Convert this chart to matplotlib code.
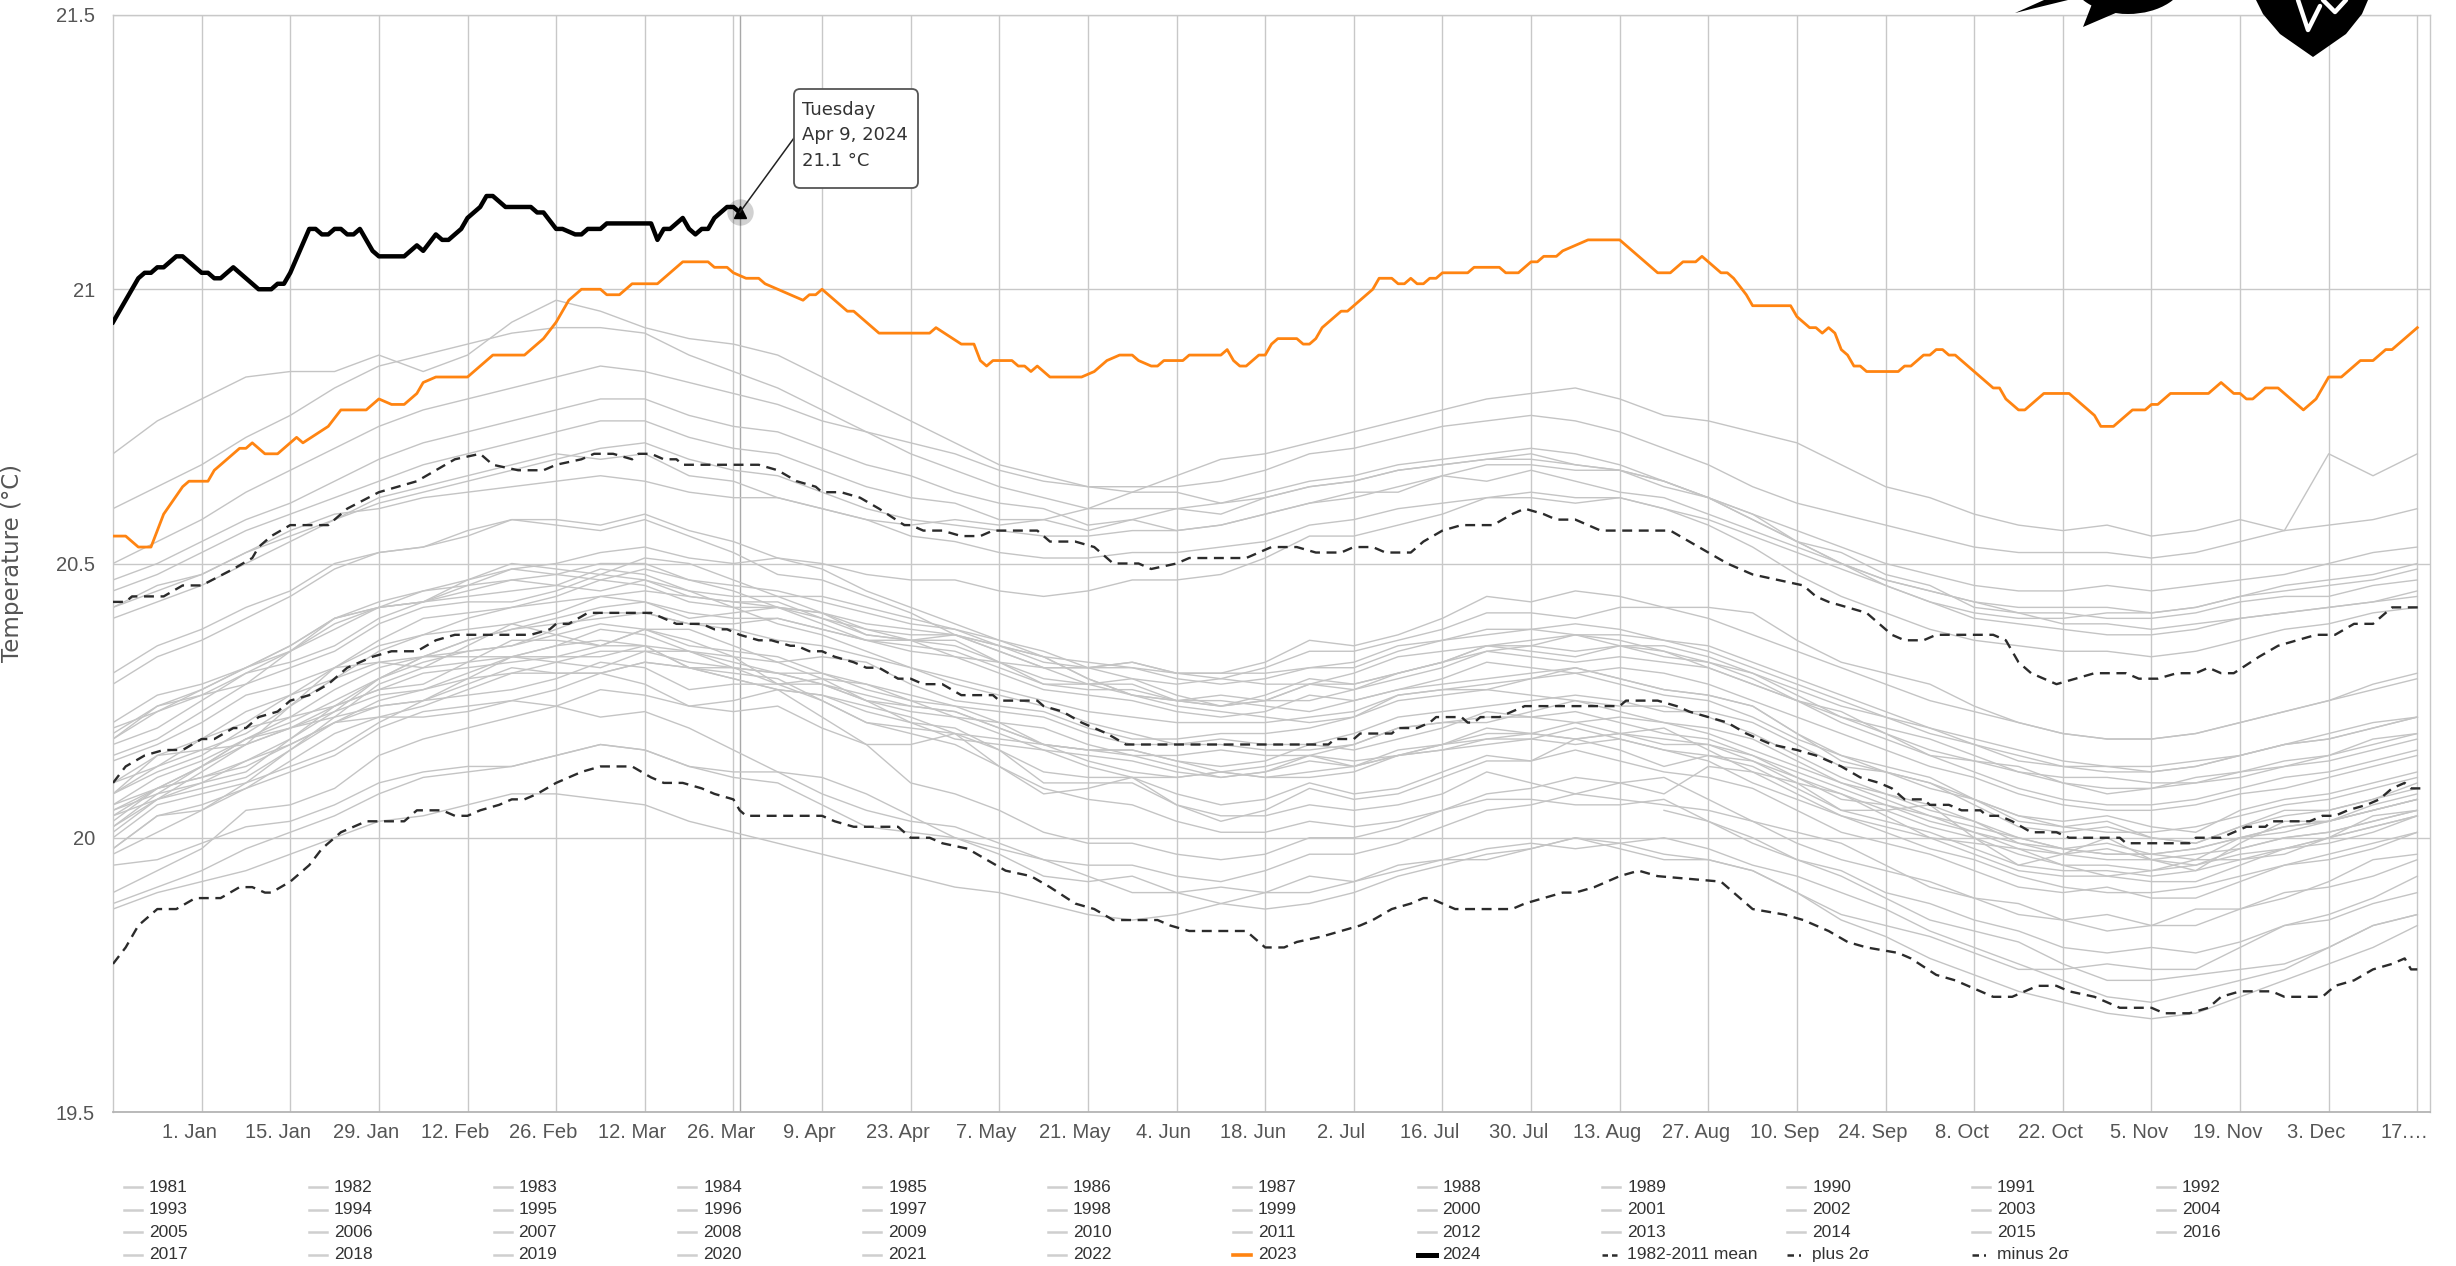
import matplotlib
matplotlib.use("Agg")
import matplotlib.pyplot as plt
import numpy as np
from matplotlib import font_manager
from matplotlib.lines import Line2D
from matplotlib.patches import FancyBboxPatch, Polygon, Ellipse
from matplotlib.transforms import IdentityTransform

nan = np.nan

# ---- data -------------------------------------------------------------
# gray years are read every 7 days (day of year, 0 = 1 Jan)
grid_days = list(range(0, 365, 7))

t1981 = [nan] * 35 + [20.05, 20.03, 20.00, 19.96, 19.94, 19.90, 19.88, 19.85, 19.83,
                      19.80, 19.79, 19.80, 19.79, 19.81, 19.84, 19.85, 19.88, 19.90]
t1982 = [19.98, 20.04, 20.05, 20.09, 20.12, 20.15, 20.20, 20.23, 20.24,
         20.25, 20.27, 20.30, 20.28, 20.24, 20.25, 20.27, 20.22, 20.17,
         20.17, 20.19, 20.13, 20.08, 20.09, 20.11, 20.06, 20.03, 20.05,
         20.09, 20.07, 20.08, 20.11, 20.14, 20.14, 20.18, 20.16, 20.13,
         20.15, 20.14, 20.10, 20.05, 20.05, 20.06, 20.00, 19.95, 19.97,
         20.00, 19.96, 19.94, 19.99, 20.03, 20.03, 20.06, 20.08]
t1983 = [20.08, 20.15, 20.16, 20.17, 20.24, 20.31, 20.32, 20.31, 20.35,
         20.39, 20.37, 20.35, 20.38, 20.36, 20.33, 20.28, 20.28, 20.25,
         20.21, 20.20, 20.16, 20.10, 20.10, 20.10, 20.06, 20.04, 20.04,
         20.06, 20.05, 20.06, 20.08, 20.12, 20.10, 20.08, 20.10, 20.11,
         20.07, 20.03, 20.01, 19.99, 19.95, 19.91, 19.89, 19.88, 19.85,
         19.83, 19.84, 19.87, 19.87, 19.89, 19.92, 19.96, 19.97]
t1984 = [19.95, 19.96, 19.99, 20.02, 20.03, 20.06, 20.10, 20.12, 20.13,
         20.13, 20.15, 20.17, 20.16, 20.13, 20.11, 20.10, 20.06, 20.02,
         20.01, 20.00, 19.97, 19.93, 19.92, 19.93, 19.90, 19.88, 19.90,
         19.93, 19.92, 19.94, 19.96, 19.98, 19.99, 19.98, 19.99, 20.00,
         19.98, 19.95, 19.93, 19.90, 19.87, 19.83, 19.80, 19.77, 19.74,
         19.71, 19.70, 19.72, 19.74, 19.76, 19.80, 19.84, 19.86]
t1985 = [19.87, 19.90, 19.92, 19.94, 19.97, 20.00, 20.03, 20.04, 20.06,
         20.08, 20.08, 20.07, 20.06, 20.03, 20.01, 19.99, 19.97, 19.95,
         19.93, 19.91, 19.90, 19.88, 19.86, 19.85, 19.86, 19.88, 19.87,
         19.88, 19.90, 19.93, 19.95, 19.97, 19.98, 20.00, 19.99, 19.97,
         19.96, 19.94, 19.90, 19.85, 19.82, 19.78, 19.75, 19.72, 19.70,
         19.68, 19.67, 19.68, 19.71, 19.74, 19.77, 19.80, 19.84]
t1986 = [19.90, 19.94, 19.98, 20.05, 20.06, 20.09, 20.15, 20.18, 20.20,
         20.22, 20.24, 20.27, 20.26, 20.24, 20.23, 20.24, 20.20, 20.17,
         20.10, 20.08, 20.05, 20.01, 19.99, 19.99, 19.97, 19.96, 19.97,
         20.00, 20.00, 20.02, 20.05, 20.08, 20.09, 20.11, 20.10, 20.08,
         20.13, 20.12, 20.08, 20.04, 20.02, 20.00, 19.97, 19.94, 19.93,
         19.93, 19.92, 19.92, 19.95, 19.98, 19.99, 20.01, 20.04]
t1987 = [20.02, 20.08, 20.10, 20.12, 20.18, 20.24, 20.27, 20.28, 20.32,
         20.36, 20.36, 20.35, 20.38, 20.38, 20.35, 20.32, 20.33, 20.32,
         20.28, 20.25, 20.24, 20.23, 20.20, 20.18, 20.18, 20.19, 20.19,
         20.20, 20.22, 20.26, 20.27, 20.27, 20.29, 20.31, 20.29, 20.27,
         20.26, 20.24, 20.19, 20.15, 20.13, 20.11, 20.07, 20.03, 20.02,
         20.03, 20.00, 19.99, 20.02, 20.05, 20.05, 20.07, 20.10]
t1988 = [20.08, 20.12, 20.15, 20.20, 20.22, 20.24, 20.29, 20.33, 20.33,
         20.33, 20.35, 20.36, 20.35, 20.31, 20.30, 20.29, 20.25, 20.21,
         20.19, 20.17, 20.13, 20.09, 20.07, 20.06, 20.03, 20.01, 20.01,
         20.03, 20.02, 20.03, 20.05, 20.07, 20.07, 20.06, 20.06, 20.07,
         20.03, 19.99, 19.96, 19.93, 19.89, 19.85, 19.83, 19.81, 19.77,
         19.74, 19.74, 19.75, 19.76, 19.77, 19.80, 19.84, 19.86]
t1989 = [19.88, 19.91, 19.94, 19.98, 20.01, 20.04, 20.08, 20.11, 20.12,
         20.13, 20.15, 20.17, 20.16, 20.13, 20.12, 20.12, 20.08, 20.05,
         20.03, 20.02, 19.99, 19.96, 19.95, 19.95, 19.93, 19.92, 19.94,
         19.97, 19.97, 19.99, 20.02, 20.05, 20.06, 20.08, 20.07, 20.06,
         20.05, 20.03, 19.99, 19.96, 19.94, 19.92, 19.89, 19.86, 19.85,
         19.86, 19.84, 19.84, 19.87, 19.90, 19.91, 19.93, 19.96]
t1990 = [20.00, 20.06, 20.08, 20.10, 20.16, 20.22, 20.24, 20.25, 20.29,
         20.33, 20.32, 20.31, 20.34, 20.34, 20.31, 20.28, 20.29, 20.28,
         20.25, 20.22, 20.21, 20.20, 20.17, 20.15, 20.15, 20.16, 20.15,
         20.15, 20.17, 20.20, 20.21, 20.21, 20.23, 20.25, 20.23, 20.21,
         20.20, 20.18, 20.14, 20.10, 20.08, 20.06, 20.03, 19.99, 19.98,
         19.99, 19.97, 19.96, 20.00, 20.02, 20.03, 20.05, 20.07]
t1991 = [20.05, 20.08, 20.13, 20.18, 20.20, 20.22, 20.28, 20.31, 20.32,
         20.33, 20.35, 20.38, 20.37, 20.34, 20.33, 20.32, 20.29, 20.25,
         20.24, 20.23, 20.20, 20.17, 20.16, 20.16, 20.14, 20.12, 20.13,
         20.15, 20.14, 20.15, 20.17, 20.19, 20.19, 20.18, 20.19, 20.20,
         20.16, 20.12, 20.10, 20.08, 20.04, 20.00, 19.99, 19.98, 19.95,
         19.93, 19.94, 19.96, 19.96, 19.97, 20.00, 20.04, 20.05]
t1992 = [20.03, 20.09, 20.11, 20.13, 20.17, 20.21, 20.22, 20.22, 20.23,
         20.25, 20.24, 20.22, 20.23, 20.20, 20.16, 20.12, 20.11, 20.08,
         20.04, 20.00, 19.98, 19.96, 19.93, 19.90, 19.90, 19.91, 19.90,
         19.90, 19.92, 19.95, 19.96, 19.96, 19.98, 20.00, 19.98, 19.96,
         19.96, 19.94, 19.90, 19.86, 19.84, 19.82, 19.79, 19.76, 19.76,
         19.77, 19.76, 19.76, 19.80, 19.84, 19.86, 19.89, 19.93]
t1993 = [19.97, 20.01, 20.05, 20.10, 20.13, 20.16, 20.21, 20.25, 20.26,
         20.27, 20.29, 20.32, 20.31, 20.27, 20.28, 20.28, 20.25, 20.21,
         20.20, 20.19, 20.16, 20.12, 20.11, 20.11, 20.08, 20.06, 20.07,
         20.10, 20.08, 20.09, 20.12, 20.15, 20.14, 20.16, 20.14, 20.12,
         20.11, 20.09, 20.05, 20.01, 19.99, 19.97, 19.94, 19.91, 19.90,
         19.91, 19.89, 19.89, 19.92, 19.95, 19.96, 19.98, 20.01]
t1994 = [20.01, 20.07, 20.09, 20.11, 20.16, 20.21, 20.24, 20.25, 20.28,
         20.31, 20.30, 20.30, 20.32, 20.31, 20.29, 20.27, 20.26, 20.23,
         20.21, 20.18, 20.17, 20.16, 20.13, 20.11, 20.11, 20.12, 20.11,
         20.12, 20.13, 20.16, 20.17, 20.18, 20.19, 20.21, 20.19, 20.17,
         20.17, 20.15, 20.11, 20.07, 20.06, 20.04, 20.01, 19.98, 19.97,
         19.98, 19.96, 19.95, 19.98, 20.00, 20.01, 20.03, 20.05]
t1995 = [20.05, 20.09, 20.13, 20.18, 20.21, 20.25, 20.29, 20.32, 20.34,
         20.35, 20.37, 20.39, 20.38, 20.35, 20.34, 20.33, 20.30, 20.27,
         20.25, 20.24, 20.21, 20.17, 20.16, 20.15, 20.13, 20.11, 20.12,
         20.14, 20.13, 20.15, 20.16, 20.18, 20.18, 20.17, 20.18, 20.16,
         20.14, 20.10, 20.07, 20.04, 20.01, 19.98, 19.96, 19.93, 19.91,
         19.90, 19.90, 19.91, 19.93, 19.95, 19.97, 19.99, 20.01]
t1996 = [19.98, 20.04, 20.06, 20.09, 20.14, 20.19, 20.22, 20.24, 20.27,
         20.30, 20.30, 20.30, 20.32, 20.31, 20.29, 20.27, 20.26, 20.24,
         20.22, 20.19, 20.18, 20.17, 20.14, 20.12, 20.11, 20.12, 20.11,
         20.11, 20.12, 20.15, 20.16, 20.17, 20.18, 20.20, 20.18, 20.16,
         20.15, 20.13, 20.09, 20.05, 20.03, 20.01, 19.98, 19.95, 19.94,
         19.94, 19.93, 19.94, 19.96, 19.98, 20.00, 20.02, 20.04]
t1997 = [20.04, 20.07, 20.12, 20.17, 20.20, 20.23, 20.29, 20.33, 20.34,
         20.35, 20.38, 20.41, 20.41, 20.39, 20.39, 20.40, 20.38, 20.36,
         20.36, 20.37, 20.34, 20.31, 20.31, 20.32, 20.30, 20.30, 20.32,
         20.36, 20.35, 20.37, 20.40, 20.44, 20.43, 20.45, 20.44, 20.42,
         20.42, 20.41, 20.36, 20.32, 20.30, 20.28, 20.24, 20.21, 20.19,
         20.18, 20.18, 20.19, 20.21, 20.23, 20.25, 20.28, 20.30]
t1998 = [20.30, 20.35, 20.38, 20.42, 20.45, 20.50, 20.52, 20.53, 20.55,
         20.58, 20.57, 20.56, 20.58, 20.55, 20.52, 20.48, 20.47, 20.44,
         20.41, 20.37, 20.35, 20.33, 20.29, 20.26, 20.25, 20.25, 20.24,
         20.23, 20.25, 20.27, 20.28, 20.29, 20.30, 20.31, 20.29, 20.27,
         20.26, 20.24, 20.19, 20.14, 20.12, 20.10, 20.06, 20.02, 20.01,
         20.02, 20.00, 19.99, 20.02, 20.04, 20.05, 20.07, 20.09]
t1999 = [20.06, 20.09, 20.13, 20.17, 20.20, 20.24, 20.27, 20.30, 20.31,
         20.32, 20.33, 20.35, 20.35, 20.31, 20.31, 20.30, 20.28, 20.25,
         20.23, 20.22, 20.19, 20.16, 20.15, 20.14, 20.12, 20.11, 20.12,
         20.15, 20.13, 20.15, 20.17, 20.20, 20.19, 20.18, 20.19, 20.18,
         20.17, 20.14, 20.11, 20.08, 20.05, 20.02, 20.00, 19.97, 19.95,
         19.95, 19.94, 19.95, 19.97, 19.98, 20.00, 20.02, 20.04]
t2000 = [20.02, 20.07, 20.10, 20.14, 20.17, 20.21, 20.25, 20.27, 20.29,
         20.30, 20.32, 20.34, 20.34, 20.32, 20.31, 20.30, 20.28, 20.26,
         20.24, 20.23, 20.20, 20.17, 20.16, 20.16, 20.14, 20.13, 20.14,
         20.17, 20.16, 20.18, 20.20, 20.23, 20.22, 20.21, 20.22, 20.21,
         20.19, 20.16, 20.13, 20.10, 20.07, 20.04, 20.02, 20.00, 19.98,
         19.97, 19.97, 19.98, 20.00, 20.01, 20.03, 20.05, 20.07]
t2001 = [20.06, 20.11, 20.14, 20.18, 20.22, 20.27, 20.31, 20.33, 20.36,
         20.38, 20.40, 20.42, 20.43, 20.41, 20.40, 20.40, 20.38, 20.36,
         20.34, 20.33, 20.30, 20.27, 20.26, 20.25, 20.23, 20.22, 20.23,
         20.26, 20.25, 20.27, 20.29, 20.32, 20.31, 20.30, 20.31, 20.30,
         20.28, 20.25, 20.22, 20.19, 20.16, 20.13, 20.11, 20.08, 20.06,
         20.05, 20.05, 20.06, 20.08, 20.09, 20.11, 20.13, 20.15]
t2002 = [20.15, 20.18, 20.23, 20.28, 20.31, 20.34, 20.39, 20.42, 20.43,
         20.43, 20.45, 20.48, 20.47, 20.44, 20.43, 20.43, 20.40, 20.37,
         20.36, 20.35, 20.32, 20.29, 20.28, 20.28, 20.25, 20.24, 20.25,
         20.28, 20.27, 20.29, 20.31, 20.34, 20.33, 20.32, 20.33, 20.32,
         20.31, 20.28, 20.25, 20.22, 20.19, 20.16, 20.14, 20.12, 20.10,
         20.09, 20.09, 20.10, 20.11, 20.13, 20.14, 20.16, 20.18]
t2003 = [20.18, 20.23, 20.26, 20.30, 20.34, 20.39, 20.42, 20.43, 20.46,
         20.49, 20.48, 20.47, 20.49, 20.47, 20.45, 20.42, 20.41, 20.38,
         20.36, 20.33, 20.32, 20.31, 20.28, 20.26, 20.25, 20.26, 20.25,
         20.25, 20.27, 20.30, 20.32, 20.34, 20.35, 20.37, 20.35, 20.33,
         20.32, 20.30, 20.26, 20.22, 20.20, 20.18, 20.15, 20.12, 20.11,
         20.11, 20.10, 20.10, 20.12, 20.14, 20.15, 20.17, 20.19]
t2004 = [20.17, 20.20, 20.25, 20.30, 20.32, 20.35, 20.40, 20.43, 20.44,
         20.45, 20.46, 20.49, 20.48, 20.45, 20.44, 20.44, 20.41, 20.37,
         20.36, 20.36, 20.32, 20.28, 20.28, 20.29, 20.26, 20.24, 20.26,
         20.29, 20.28, 20.30, 20.32, 20.35, 20.34, 20.33, 20.35, 20.34,
         20.31, 20.28, 20.25, 20.23, 20.19, 20.15, 20.14, 20.13, 20.10,
         20.08, 20.09, 20.11, 20.12, 20.13, 20.15, 20.18, 20.19]
t2005 = [20.18, 20.24, 20.26, 20.28, 20.34, 20.40, 20.42, 20.43, 20.47,
         20.50, 20.49, 20.48, 20.51, 20.50, 20.47, 20.44, 20.44, 20.42,
         20.40, 20.38, 20.36, 20.34, 20.31, 20.29, 20.28, 20.29, 20.28,
         20.28, 20.30, 20.33, 20.34, 20.35, 20.36, 20.37, 20.36, 20.34,
         20.32, 20.29, 20.25, 20.21, 20.18, 20.15, 20.12, 20.09, 20.07,
         20.06, 20.06, 20.07, 20.09, 20.11, 20.12, 20.14, 20.16]
t2006 = [20.14, 20.17, 20.21, 20.26, 20.28, 20.31, 20.36, 20.40, 20.41,
         20.42, 20.44, 20.47, 20.46, 20.43, 20.42, 20.42, 20.39, 20.36,
         20.35, 20.34, 20.31, 20.28, 20.27, 20.27, 20.25, 20.24, 20.25,
         20.28, 20.28, 20.30, 20.32, 20.35, 20.35, 20.34, 20.35, 20.35,
         20.33, 20.30, 20.27, 20.24, 20.22, 20.20, 20.17, 20.14, 20.13,
         20.13, 20.12, 20.13, 20.15, 20.17, 20.18, 20.20, 20.22]
t2007 = [20.21, 20.26, 20.28, 20.31, 20.35, 20.40, 20.42, 20.43, 20.45,
         20.47, 20.46, 20.45, 20.47, 20.45, 20.42, 20.39, 20.37, 20.34,
         20.31, 20.28, 20.26, 20.24, 20.21, 20.19, 20.17, 20.17, 20.16,
         20.16, 20.17, 20.20, 20.21, 20.22, 20.22, 20.23, 20.21, 20.19,
         20.18, 20.15, 20.12, 20.09, 20.06, 20.03, 20.01, 19.99, 19.97,
         19.96, 19.96, 19.97, 19.98, 20.00, 20.01, 20.03, 20.05]
t2008 = [20.04, 20.09, 20.11, 20.14, 20.18, 20.23, 20.26, 20.27, 20.30,
         20.33, 20.33, 20.33, 20.35, 20.34, 20.32, 20.30, 20.30, 20.28,
         20.26, 20.24, 20.23, 20.22, 20.19, 20.17, 20.17, 20.18, 20.17,
         20.17, 20.19, 20.22, 20.23, 20.24, 20.25, 20.26, 20.25, 20.23,
         20.23, 20.21, 20.17, 20.13, 20.12, 20.10, 20.07, 20.04, 20.03,
         20.04, 20.02, 20.01, 20.05, 20.07, 20.08, 20.10, 20.12]
t2009 = [20.10, 20.13, 20.18, 20.23, 20.26, 20.29, 20.34, 20.37, 20.38,
         20.39, 20.41, 20.44, 20.43, 20.40, 20.41, 20.42, 20.40, 20.38,
         20.37, 20.37, 20.34, 20.31, 20.31, 20.32, 20.30, 20.29, 20.31,
         20.34, 20.34, 20.36, 20.38, 20.41, 20.41, 20.40, 20.42, 20.42,
         20.40, 20.37, 20.34, 20.31, 20.28, 20.25, 20.23, 20.21, 20.19,
         20.18, 20.18, 20.19, 20.21, 20.23, 20.25, 20.27, 20.29]
t2010 = [20.28, 20.33, 20.36, 20.40, 20.44, 20.49, 20.52, 20.53, 20.56,
         20.58, 20.58, 20.57, 20.59, 20.56, 20.54, 20.51, 20.49, 20.45,
         20.42, 20.39, 20.36, 20.33, 20.29, 20.26, 20.24, 20.23, 20.22,
         20.21, 20.22, 20.25, 20.26, 20.27, 20.26, 20.25, 20.24, 20.24,
         20.22, 20.19, 20.15, 20.11, 20.08, 20.05, 20.03, 20.00, 19.98,
         19.97, 19.97, 19.98, 20.00, 20.02, 20.03, 20.05, 20.07]
t2011 = [20.08, 20.13, 20.16, 20.19, 20.24, 20.29, 20.32, 20.33, 20.36,
         20.38, 20.39, 20.40, 20.41, 20.39, 20.38, 20.36, 20.35, 20.33,
         20.31, 20.29, 20.27, 20.25, 20.23, 20.22, 20.21, 20.21, 20.21,
         20.22, 20.23, 20.26, 20.27, 20.28, 20.29, 20.30, 20.28, 20.26,
         20.25, 20.22, 20.18, 20.15, 20.12, 20.09, 20.07, 20.04, 20.02,
         20.01, 20.01, 20.02, 20.04, 20.06, 20.07, 20.09, 20.11]
t2012 = [20.10, 20.15, 20.18, 20.21, 20.26, 20.31, 20.35, 20.37, 20.40,
         20.42, 20.43, 20.44, 20.45, 20.44, 20.43, 20.42, 20.41, 20.39,
         20.38, 20.37, 20.35, 20.33, 20.32, 20.31, 20.30, 20.30, 20.30,
         20.31, 20.32, 20.35, 20.36, 20.37, 20.38, 20.39, 20.38, 20.36,
         20.35, 20.32, 20.29, 20.26, 20.23, 20.20, 20.18, 20.16, 20.14,
         20.13, 20.13, 20.14, 20.15, 20.17, 20.18, 20.20, 20.22]
t2013 = [20.20, 20.23, 20.27, 20.31, 20.34, 20.38, 20.42, 20.45, 20.46,
         20.47, 20.48, 20.50, 20.50, 20.47, 20.46, 20.45, 20.43, 20.41,
         20.39, 20.38, 20.35, 20.32, 20.31, 20.31, 20.29, 20.28, 20.29,
         20.31, 20.31, 20.34, 20.36, 20.38, 20.38, 20.37, 20.37, 20.36,
         20.34, 20.31, 20.28, 20.25, 20.22, 20.19, 20.17, 20.15, 20.13,
         20.12, 20.12, 20.13, 20.15, 20.17, 20.19, 20.21, 20.22]
t2014 = [20.19, 20.24, 20.27, 20.31, 20.35, 20.40, 20.43, 20.45, 20.47,
         20.49, 20.50, 20.52, 20.53, 20.51, 20.50, 20.51, 20.50, 20.48,
         20.47, 20.47, 20.45, 20.44, 20.45, 20.47, 20.47, 20.48, 20.51,
         20.55, 20.55, 20.57, 20.59, 20.62, 20.62, 20.61, 20.62, 20.60,
         20.57, 20.53, 20.48, 20.44, 20.41, 20.38, 20.36, 20.35, 20.34,
         20.34, 20.33, 20.34, 20.36, 20.38, 20.39, 20.41, 20.42]
t2015 = [20.42, 20.46, 20.48, 20.52, 20.56, 20.59, 20.60, 20.62, 20.63,
         20.64, 20.65, 20.66, 20.65, 20.63, 20.62, 20.62, 20.60, 20.58,
         20.57, 20.58, 20.57, 20.58, 20.60, 20.63, 20.66, 20.69, 20.70,
         20.72, 20.74, 20.76, 20.78, 20.80, 20.81, 20.82, 20.80, 20.77,
         20.76, 20.74, 20.72, 20.68, 20.64, 20.62, 20.59, 20.57, 20.56,
         20.57, 20.55, 20.56, 20.58, 20.56, 20.70, 20.66, 20.70]
t2016 = [20.70, 20.76, 20.80, 20.84, 20.85, 20.85, 20.88, 20.85, 20.88,
         20.94, 20.98, 20.96, 20.93, 20.91, 20.90, 20.88, 20.84, 20.80,
         20.76, 20.72, 20.68, 20.66, 20.64, 20.63, 20.63, 20.61, 20.62,
         20.64, 20.65, 20.67, 20.68, 20.69, 20.70, 20.68, 20.67, 20.64,
         20.62, 20.58, 20.54, 20.50, 20.47, 20.45, 20.43, 20.41, 20.41,
         20.40, 20.40, 20.41, 20.43, 20.44, 20.44, 20.46, 20.47]
t2017 = [20.47, 20.50, 20.54, 20.58, 20.61, 20.65, 20.69, 20.72, 20.74,
         20.76, 20.78, 20.80, 20.80, 20.77, 20.75, 20.74, 20.71, 20.68,
         20.66, 20.63, 20.61, 20.60, 20.57, 20.58, 20.56, 20.57, 20.59,
         20.61, 20.62, 20.64, 20.66, 20.68, 20.68, 20.67, 20.67, 20.65,
         20.62, 20.58, 20.54, 20.50, 20.46, 20.43, 20.40, 20.39, 20.38,
         20.37, 20.37, 20.38, 20.40, 20.41, 20.42, 20.43, 20.44]
t2018 = [20.42, 20.45, 20.48, 20.52, 20.55, 20.58, 20.62, 20.64, 20.66,
         20.68, 20.70, 20.69, 20.70, 20.66, 20.65, 20.62, 20.60, 20.58,
         20.55, 20.54, 20.52, 20.51, 20.51, 20.52, 20.52, 20.53, 20.54,
         20.57, 20.58, 20.60, 20.61, 20.62, 20.63, 20.62, 20.62, 20.60,
         20.58, 20.55, 20.52, 20.49, 20.46, 20.43, 20.41, 20.40, 20.40,
         20.41, 20.41, 20.42, 20.44, 20.46, 20.47, 20.48, 20.50]
t2019 = [20.50, 20.54, 20.58, 20.63, 20.67, 20.71, 20.75, 20.78, 20.80,
         20.82, 20.84, 20.86, 20.85, 20.83, 20.81, 20.79, 20.76, 20.74,
         20.72, 20.70, 20.67, 20.65, 20.64, 20.64, 20.64, 20.65, 20.67,
         20.70, 20.71, 20.73, 20.75, 20.76, 20.77, 20.76, 20.74, 20.71,
         20.68, 20.64, 20.61, 20.59, 20.57, 20.55, 20.53, 20.52, 20.52,
         20.52, 20.51, 20.52, 20.54, 20.56, 20.57, 20.58, 20.60]
t2020 = [20.60, 20.64, 20.68, 20.73, 20.77, 20.82, 20.86, 20.88, 20.90,
         20.92, 20.93, 20.93, 20.92, 20.88, 20.85, 20.82, 20.78, 20.74,
         20.70, 20.67, 20.64, 20.62, 20.60, 20.60, 20.60, 20.61, 20.63,
         20.65, 20.66, 20.68, 20.69, 20.70, 20.71, 20.70, 20.68, 20.65,
         20.62, 20.59, 20.54, 20.52, 20.48, 20.46, 20.42, 20.41, 20.39,
         20.39, 20.38, 20.39, 20.40, 20.41, 20.42, 20.43, 20.45]
t2021 = [20.40, 20.43, 20.46, 20.50, 20.54, 20.58, 20.61, 20.63, 20.65,
         20.67, 20.69, 20.71, 20.72, 20.69, 20.67, 20.66, 20.63, 20.60,
         20.58, 20.57, 20.56, 20.55, 20.55, 20.56, 20.56, 20.57, 20.59,
         20.61, 20.63, 20.63, 20.66, 20.65, 20.67, 20.65, 20.63, 20.62,
         20.59, 20.56, 20.53, 20.50, 20.47, 20.45, 20.43, 20.42, 20.42,
         20.42, 20.41, 20.42, 20.44, 20.45, 20.46, 20.47, 20.49]
t2022 = [20.45, 20.48, 20.52, 20.56, 20.59, 20.62, 20.65, 20.68, 20.70,
         20.72, 20.74, 20.76, 20.76, 20.73, 20.71, 20.70, 20.67, 20.64,
         20.62, 20.61, 20.58, 20.58, 20.56, 20.58, 20.60, 20.59, 20.62,
         20.64, 20.65, 20.67, 20.68, 20.69, 20.69, 20.68, 20.67, 20.65,
         20.62, 20.59, 20.56, 20.53, 20.50, 20.48, 20.46, 20.45, 20.45,
         20.46, 20.45, 20.46, 20.47, 20.48, 20.50, 20.52, 20.53]

gray_years = list(range(1981, 2023))
gray_series = [t1981, t1982, t1983, t1984, t1985, t1986, t1987, t1988, t1989,
               t1990, t1991, t1992, t1993, t1994, t1995, t1996, t1997, t1998,
               t1999, t2000, t2001, t2002, t2003, t2004, t2005, t2006, t2007,
               t2008, t2009, t2010, t2011, t2012, t2013, t2014, t2015, t2016,
               t2017, t2018, t2019, t2020, t2021, t2022]

days_2023 = [0, 2, 4, 6, 8, 11, 12, 15, 16, 20, 21, 22, 24, 26, 29, 30, 34, 36, 40, 42,
             44, 46, 48, 49, 51, 56, 57, 60, 65, 68, 70, 72, 74, 77, 78, 80, 82, 86, 90, 94,
             95, 97, 98, 100, 102, 103, 105, 107, 109, 110, 111, 112, 116, 117, 121, 129, 130,
             134, 136, 137, 138, 139, 142, 143, 144, 145, 146, 148, 153, 155, 157, 159, 161,
             162, 164, 165, 166, 169, 170, 175, 176, 177, 178, 179, 181, 182, 183, 184, 187,
             188, 189, 190, 191, 194, 195, 197, 199, 200, 202, 203, 204, 205, 206, 207, 208,
             209, 210, 214, 215, 219, 220, 222, 224, 225, 226, 228, 229, 231, 233, 238, 240,
             244, 246, 248, 250, 251, 252, 254, 255, 256, 258, 259, 265, 266, 268, 269, 270,
             271, 272, 273, 274, 275, 276, 277, 282, 283, 284, 286, 287, 288, 289, 290, 291,
             297, 298, 299, 301, 302, 305, 309, 311, 313, 314, 316, 319, 321, 322, 323, 325,
             331, 333, 335, 336, 337, 338, 340, 342, 346, 348, 350, 352, 355, 357, 359, 360, 364]
temp_2023 = [20.55, 20.55, 20.53, 20.53, 20.59, 20.64, 20.65, 20.65, 20.67, 20.71, 20.71, 20.72,
             20.70, 20.70, 20.73, 20.72, 20.75, 20.78, 20.78, 20.80, 20.79, 20.79, 20.81, 20.83,
             20.84, 20.84, 20.85, 20.88, 20.88, 20.91, 20.94, 20.98, 21.00, 21.00, 20.99, 20.99,
             21.01, 21.01, 21.05, 21.05, 21.04, 21.04, 21.03, 21.02, 21.02, 21.01, 21.00, 20.99,
             20.98, 20.99, 20.99, 21.00, 20.96, 20.96, 20.92, 20.92, 20.93, 20.90, 20.90, 20.87,
             20.86, 20.87, 20.87, 20.86, 20.86, 20.85, 20.86, 20.84, 20.84, 20.85, 20.87, 20.88,
             20.88, 20.87, 20.86, 20.86, 20.87, 20.87, 20.88, 20.88, 20.89, 20.87, 20.86, 20.86,
             20.88, 20.88, 20.90, 20.91, 20.91, 20.90, 20.90, 20.91, 20.93, 20.96, 20.96, 20.98,
             21.00, 21.02, 21.02, 21.01, 21.01, 21.02, 21.01, 21.01, 21.02, 21.02, 21.03, 21.03,
             21.04, 21.04, 21.03, 21.03, 21.05, 21.05, 21.06, 21.06, 21.07, 21.08, 21.09, 21.09,
             21.07, 21.03, 21.03, 21.05, 21.05, 21.06, 21.05, 21.03, 21.03, 21.02, 20.99, 20.97,
             20.97, 20.95, 20.93, 20.93, 20.92, 20.93, 20.92, 20.89, 20.88, 20.86, 20.86, 20.85,
             20.85, 20.86, 20.86, 20.88, 20.88, 20.89, 20.89, 20.88, 20.88, 20.82, 20.82, 20.80,
             20.78, 20.78, 20.81, 20.81, 20.79, 20.77, 20.75, 20.75, 20.78, 20.78, 20.79, 20.79,
             20.81, 20.81, 20.83, 20.81, 20.81, 20.80, 20.80, 20.82, 20.82, 20.78, 20.80, 20.84,
             20.84, 20.87, 20.87, 20.89, 20.89, 20.93]

days_2024 = [0, 2, 4, 5, 6, 7, 8, 10, 11, 12, 14, 15, 16, 17, 19, 23, 25, 26, 27, 28, 31, 32,
             33, 34, 35, 36, 37, 38, 39, 41, 42, 46, 48, 49, 51, 52, 53, 55, 56, 58, 59, 60, 62,
             66, 67, 68, 70, 71, 73, 74, 75, 77, 78, 85, 86, 87, 88, 90, 91, 92, 93, 94, 95, 97,
             98, 99]
temp_2024 = [20.94, 20.98, 21.02, 21.03, 21.03, 21.04, 21.04, 21.06, 21.06, 21.05, 21.03, 21.03,
             21.02, 21.02, 21.04, 21.00, 21.00, 21.01, 21.01, 21.03, 21.11, 21.11, 21.10, 21.10,
             21.11, 21.11, 21.10, 21.10, 21.11, 21.07, 21.06, 21.06, 21.08, 21.07, 21.10, 21.09,
             21.09, 21.11, 21.13, 21.15, 21.17, 21.17, 21.15, 21.15, 21.14, 21.14, 21.11, 21.11,
             21.10, 21.10, 21.11, 21.11, 21.12, 21.12, 21.09, 21.11, 21.11, 21.13, 21.11, 21.10,
             21.11, 21.11, 21.13, 21.15, 21.15, 21.14]

days_mean = [0, 2, 5, 8, 11, 14, 16, 19, 21, 23, 26, 28, 31, 34, 37, 41, 44, 48, 51, 54, 66, 69,
             70, 72, 75, 85, 87, 89, 93, 95, 97, 99, 102, 104, 107, 108, 110, 112, 114, 117, 119,
             121, 124, 126, 128, 131, 134, 139, 140, 146, 147, 150, 153, 155, 157, 160, 192, 193,
             196, 197, 202, 203, 206, 208, 209, 213, 214, 215, 216, 219, 221, 223, 238, 239, 244,
             247, 249, 252, 255, 258, 262, 266, 269, 273, 276, 279, 281, 283, 286, 287, 290, 292,
             295, 296, 298, 300, 303, 307, 309, 317, 318, 328, 329, 333, 335, 337, 340, 341, 347,
             349, 351, 353, 356, 358, 360, 362, 363, 365]
temp_mean = [20.10, 20.13, 20.15, 20.16, 20.16, 20.18, 20.18, 20.20, 20.20, 20.22, 20.23, 20.25,
             20.26, 20.28, 20.31, 20.33, 20.34, 20.34, 20.36, 20.37, 20.37, 20.38, 20.39, 20.39,
             20.41, 20.41, 20.40, 20.39, 20.39, 20.38, 20.38, 20.37, 20.36, 20.36, 20.35, 20.35,
             20.34, 20.34, 20.33, 20.32, 20.31, 20.31, 20.29, 20.29, 20.28, 20.28, 20.26, 20.26,
             20.25, 20.25, 20.24, 20.23, 20.21, 20.20, 20.19, 20.17, 20.17, 20.18, 20.18, 20.19,
             20.19, 20.20, 20.20, 20.21, 20.22, 20.22, 20.21, 20.21, 20.22, 20.22, 20.23, 20.24,
             20.24, 20.25, 20.25, 20.24, 20.23, 20.22, 20.21, 20.19, 20.17, 20.16, 20.15, 20.13,
             20.11, 20.10, 20.09, 20.07, 20.07, 20.06, 20.06, 20.05, 20.05, 20.04, 20.04, 20.03,
             20.01, 20.01, 20.00, 20.00, 19.99, 19.99, 20.00, 20.00, 20.01, 20.02, 20.02, 20.03,
             20.03, 20.04, 20.04, 20.05, 20.06, 20.07, 20.09, 20.10, 20.09, 20.09]

days_plus = [0, 2, 3, 8, 11, 14, 19, 22, 23, 25, 28, 34, 37, 42, 45, 48, 51, 54, 58, 60, 64, 68,
             70, 74, 76, 79, 82, 83, 85, 87, 89, 90, 102, 105, 108, 111, 112, 115, 118, 121, 125,
             126, 128, 131, 134, 137, 139, 146, 148, 152, 155, 158, 162, 164, 168, 170, 179, 181,
             183, 187, 190, 194, 196, 199, 201, 205, 207, 210, 213, 218, 221, 223, 226, 228, 231,
             233, 235, 246, 249, 252, 255, 259, 263, 267, 269, 271, 274, 277, 279, 281, 283, 286,
             288, 297, 299, 301, 303, 307, 310, 313, 318, 320, 323, 326, 329, 331, 333, 335, 339,
             342, 345, 348, 351, 354, 357, 360, 365]
temp_plus = [20.43, 20.43, 20.44, 20.44, 20.46, 20.46, 20.49, 20.51, 20.53, 20.55, 20.57, 20.57,
             20.60, 20.63, 20.64, 20.65, 20.67, 20.69, 20.70, 20.68, 20.67, 20.67, 20.68, 20.69,
             20.70, 20.70, 20.69, 20.70, 20.70, 20.69, 20.69, 20.68, 20.68, 20.67, 20.65, 20.64,
             20.63, 20.63, 20.62, 20.60, 20.57, 20.57, 20.56, 20.56, 20.55, 20.55, 20.56, 20.56,
             20.54, 20.54, 20.53, 20.50, 20.50, 20.49, 20.50, 20.51, 20.51, 20.52, 20.53, 20.53,
             20.52, 20.52, 20.53, 20.53, 20.52, 20.52, 20.54, 20.56, 20.57, 20.57, 20.59, 20.60,
             20.59, 20.58, 20.58, 20.57, 20.56, 20.56, 20.54, 20.52, 20.50, 20.48, 20.47, 20.46,
             20.44, 20.43, 20.42, 20.41, 20.39, 20.37, 20.36, 20.36, 20.37, 20.37, 20.36, 20.32,
             20.30, 20.28, 20.29, 20.30, 20.30, 20.29, 20.29, 20.30, 20.30, 20.31, 20.30, 20.30,
             20.33, 20.35, 20.36, 20.37, 20.37, 20.39, 20.39, 20.42, 20.42]

days_minus = [0, 2, 4, 7, 10, 13, 17, 20, 22, 24, 25, 28, 31, 33, 36, 40, 46, 48, 52, 54, 56, 58,
              61, 63, 65, 67, 70, 74, 77, 82, 85, 87, 90, 93, 95, 98, 99, 100, 112, 114, 117, 124,
              126, 129, 131, 135, 138, 141, 145, 148, 152, 155, 158, 165, 167, 170, 179, 182, 185,
              187, 191, 194, 197, 199, 202, 205, 207, 208, 210, 212, 221, 223, 226, 229, 231, 234,
              238, 241, 244, 254, 256, 259, 264, 267, 271, 274, 277, 282, 284, 288, 291, 295, 297,
              300, 304, 307, 309, 313, 317, 322, 324, 328, 331, 333, 336, 341, 343, 349, 351, 354,
              357, 360, 362, 363, 365]
temp_minus = [19.77, 19.80, 19.84, 19.87, 19.87, 19.89, 19.89, 19.91, 19.91, 19.90, 19.90, 19.92,
              19.95, 19.98, 20.01, 20.03, 20.03, 20.05, 20.05, 20.04, 20.04, 20.05, 20.06, 20.07,
              20.07, 20.08, 20.10, 20.12, 20.13, 20.13, 20.11, 20.10, 20.10, 20.09, 20.08, 20.07,
              20.05, 20.04, 20.04, 20.03, 20.02, 20.02, 20.00, 20.00, 19.99, 19.98, 19.96, 19.94,
              19.93, 19.91, 19.88, 19.87, 19.85, 19.85, 19.84, 19.83, 19.83, 19.80, 19.80, 19.81,
              19.82, 19.83, 19.84, 19.85, 19.87, 19.88, 19.89, 19.89, 19.88, 19.87, 19.87, 19.88,
              19.89, 19.90, 19.90, 19.91, 19.93, 19.94, 19.93, 19.92, 19.90, 19.87, 19.86, 19.85,
              19.83, 19.81, 19.80, 19.79, 19.78, 19.75, 19.74, 19.72, 19.71, 19.71, 19.73, 19.73,
              19.72, 19.71, 19.69, 19.69, 19.68, 19.68, 19.69, 19.71, 19.72, 19.72, 19.71, 19.71,
              19.73, 19.74, 19.76, 19.77, 19.78, 19.76, 19.76]

tick_labels = ['1. Jan', '15. Jan', '29. Jan', '12. Feb', '26. Feb', '12. Mar', '26. Mar',
               '9. Apr', '23. Apr', '7. May', '21. May', '4. Jun', '18. Jun', '2. Jul',
               '16. Jul', '30. Jul', '13. Aug', '27. Aug', '10. Sep', '24. Sep', '8. Oct',
               '22. Oct', '5. Nov', '19. Nov', '3. Dec', '17.…']
y_ticks = [19.5, 20, 20.5, 21, 21.5]
y_tick_labels = ['19.5', '20', '20.5', '21', '21.5']
tooltip_lines = ['Tuesday', 'Apr 9, 2024', '21.1 °C']

# ---- style ------------------------------------------------------------
names = {f.name for f in font_manager.fontManager.ttflist}
narrow = 'Liberation Sans Narrow' if 'Liberation Sans Narrow' in names else 'Liberation Sans'
nfam = [narrow, 'DejaVu Sans']

W, H = 2456, 1266
fig = plt.figure(figsize=(W / 100, H / 100), dpi=100)
ax = fig.add_axes([113 / W, 1 - 1112 / H, 2317 / W, 1097 / H])

gray = '#c4c4c4'
orange = '#ff8411'
dash_col = '#2b2b2b'

n = len(grid_days)
for vals in gray_series:
    ax.plot(grid_days[:len(vals)], vals[:n], color=gray, lw=1.0, zorder=2)

ax.plot(days_plus, temp_plus, color=dash_col, lw=1.7, dashes=(4.2, 2.8), zorder=3)
ax.plot(days_mean, temp_mean, color=dash_col, lw=1.7, dashes=(4.2, 2.8), zorder=3)
ax.plot(days_minus, temp_minus, color=dash_col, lw=1.7, dashes=(4.2, 2.8), zorder=3)
ax.plot(days_2023, temp_2023, color=orange, lw=2.0, zorder=4)
ax.plot(days_2024, temp_2024, color='black', lw=3.2, zorder=5, solid_joinstyle='round')

# hovered point + crosshair
ax.axvline(days_2024[-1], color='#a8a8a8', lw=1.0, zorder=1)
ax.plot(days_2024[-1], temp_2024[-1], marker='o', ms=19, color='#000000', alpha=0.18,
        mec='none', zorder=6)
ax.plot(days_2024[-1], temp_2024[-1], marker='^', ms=9, color='black', zorder=7)

ax.set_xlim(0, 366)
ax.set_ylim(19.5, 21.5)
grid_x = list(range(14, 365, 14))
ax.set_xticks(grid_x)
ax.set_xticklabels([])
ax.set_xticks([g - 2 for g in grid_x], minor=True)
ax.set_xticklabels(tick_labels, minor=True, fontsize=14.5, color='#555555', family=nfam)
ax.set_yticks(y_ticks)
ax.set_yticklabels(y_tick_labels, fontsize=14.5, color='#555555', family=nfam)
ax.tick_params(axis='both', which='both', length=0)
ax.tick_params(axis='x', which='minor', pad=8)
ax.tick_params(axis='y', pad=13)
ax.grid(True, which='major', color='#c8c8c8', lw=1.0, zorder=0)
ax.set_axisbelow(True)
for side in ['top', 'right', 'left']:
    ax.spines[side].set_color('#c8c8c8')
    ax.spines[side].set_linewidth(1.0)
ax.spines['bottom'].set_color('#b4b4b4')
ax.spines['bottom'].set_linewidth(1.3)

ax.set_ylabel('Temperature (°C)', fontsize=16.5, color='#555555', family='DejaVu Sans')
ax.yaxis.set_label_coords(-0.0385, 0.5)

# ---- tooltip ------------------------------------------------------------
px = IdentityTransform()
fig.add_artist(FancyBboxPatch((794, H - 188), 124, 99, boxstyle='round,pad=0,rounding_size=6',
                              transform=px, fc='white', ec='#555555', lw=1.3, zorder=8))
for i, s in enumerate(tooltip_lines):
    fig.text(802, H - 110 - i * 25.5, s, transform=px, fontsize=13, color='#333333',
             va='center', ha='left', family='DejaVu Sans', zorder=9)
ax.annotate('', xy=(days_2024[-1], temp_2024[-1]), xytext=(794, H - 138),
            textcoords='figure pixels',
            arrowprops=dict(arrowstyle='-', color='#222222', lw=1.1, shrinkA=0, shrinkB=0),
            zorder=8)

# ---- legend (row-major, 12 columns) ------------------------------------
leg_items = [(str(y), dict(color='#cfcfcf', lw=1.8)) for y in gray_years]
leg_items += [('2023', dict(color=orange, lw=2.6)),
              ('2024', dict(color='black', lw=3.6)),
              ('1982-2011 mean', dict(color=dash_col, lw=1.8, dashes=(2.2, 1.6))),
              ('plus 2σ', dict(color=dash_col, lw=1.8, dashes=(2.6, 2.0, 0.8, 2.0))),
              ('minus 2σ', dict(color=dash_col, lw=1.8, dashes=(2.6, 2.0, 0.8, 2.0)))]
for i, (lab, st) in enumerate(leg_items):
    r, c = divmod(i, 12)
    x0 = 124 + c * 184.8
    y0 = H - (1187 + r * 22.6)
    fig.add_artist(Line2D([x0, x0 + 18], [y0, y0], transform=px, **st))
    fig.text(x0 + 25, y0, lab, transform=px, fontsize=12.5, color='#333333',
             va='center', ha='left', family=nfam)

# ---- logos cut at top right --------------------------------------------
def tp(pts):
    return [(x, H - y) for x, y in pts]

fig.add_artist(Ellipse((2128, H + 24), 116, 76, transform=px, fc='black', ec='none'))
fig.add_artist(Polygon(tp([(2015, 13), (2044, 0), (2068, 0)]), transform=px, fc='black', ec='none'))
fig.add_artist(Polygon(tp([(2083, 27), (2092, 4), (2118, 12)]), transform=px, fc='black', ec='none'))
fig.add_artist(Polygon(tp([(2256, 0), (2368, 0), (2362, 14), (2346, 34), (2313, 57),
                           (2280, 34), (2263, 14)]), transform=px, fc='black', ec='none'))
fig.add_artist(Line2D([2298, 2308, 2320], [H, H - 30, H - 6], transform=px, color='white',
                      lw=3.2, solid_capstyle='round'))
fig.add_artist(Line2D([2323, 2335, 2346], [H, H - 12, H], transform=px, color='white',
                      lw=3.2, solid_capstyle='round'))

fig.savefig('out.png', dpi=100, facecolor='white')
